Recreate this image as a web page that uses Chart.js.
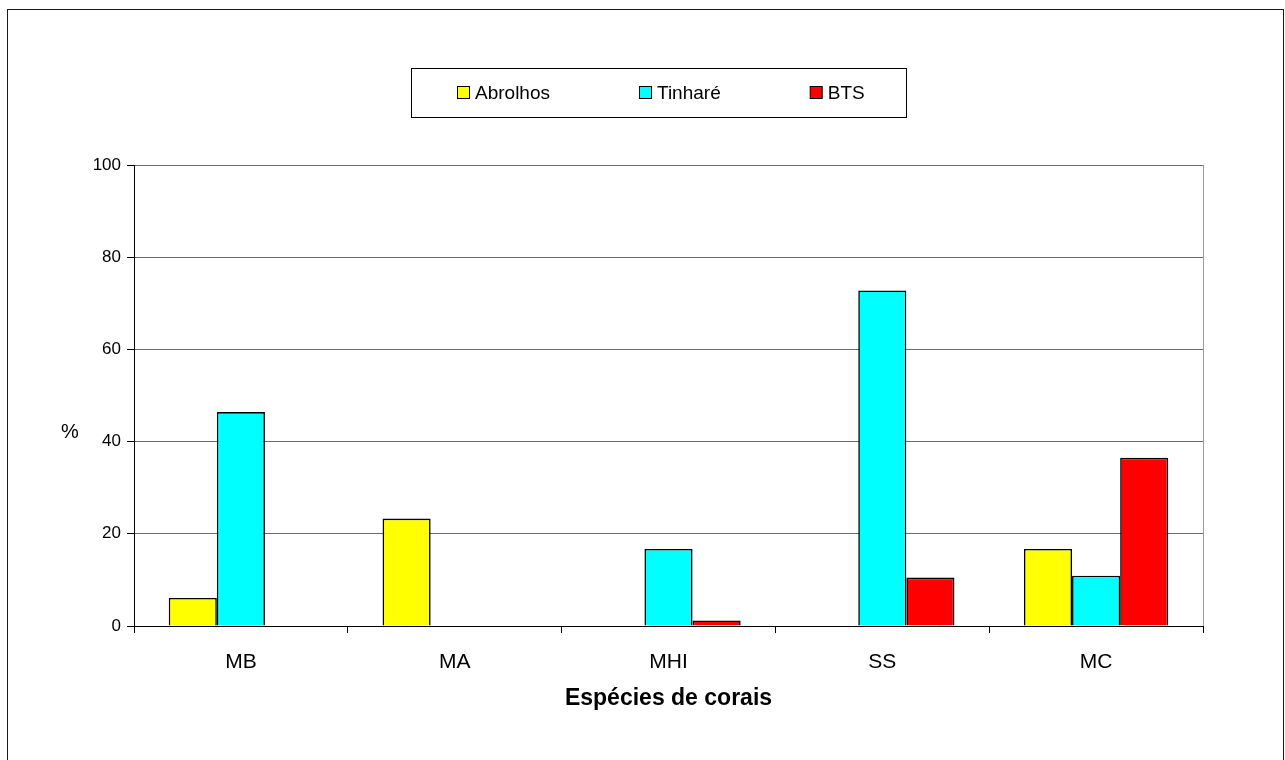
<!DOCTYPE html>
<html>
<head>
<meta charset="utf-8">
<script src="https://cdn.jsdelivr.net/npm/chart.js@4.4.1/dist/chart.umd.min.js"></script>
<style>
  html, body { margin: 0; padding: 0; background: #ffffff; }
  canvas { display: block; }
</style>
</head>
<body>
<canvas id="c" width="1285" height="760"></canvas>
<script>
// Coral species occurrence (%) by site
const categories = ['MB', 'MA', 'MHI', 'SS', 'MC'];
const abrolhos = [6.1, 23.3, 0, 0, 16.7];
const tinhare = [46.4, 0, 16.7, 72.8, 10.9];
const bts = [0, 0, 1.2, 10.5, 36.5];
const seriesNames = ['Abrolhos', 'Tinharé', 'BTS'];
const seriesColors = ['#FFFF00', '#00FFFF', '#FF0000'];
const yTickValues = [0, 20, 40, 60, 80, 100];
const xTitle = 'Espécies de corais';
const yTitle = '%';

const FONT = 'Liberation Sans, Arial, Helvetica, sans-serif';

// Outer frame and plot-area border, drawn beneath the chart
const framePlugin = {
  id: 'frame',
  beforeDraw(chart) {
    const ctx = chart.ctx;
    const a = chart.chartArea;
    ctx.save();
    ctx.fillStyle = '#ffffff';
    ctx.fillRect(0, 0, chart.width, chart.height);
    ctx.strokeStyle = '#1a1a1a';
    ctx.lineWidth = 1;
    ctx.strokeRect(7.5, 9.5, 1276, 800);
    ctx.strokeStyle = '#9a9a9a';
    ctx.strokeRect(Math.round(a.left) + 0.5, Math.round(a.top) + 0.5,
                   Math.round(a.right - a.left), Math.round(a.bottom - a.top));
    ctx.restore();
  }
};

// Boxed legend across the top, items built from the datasets
const boxLegendPlugin = {
  id: 'boxLegend',
  afterDraw(chart) {
    const ctx = chart.ctx;
    const box = { left: 411.5, top: 68.5, right: 906.5, bottom: 117.5 };
    ctx.save();
    ctx.strokeStyle = '#000000';
    ctx.lineWidth = 1;
    ctx.strokeRect(box.left, box.top, box.right - box.left, box.bottom - box.top);
    ctx.font = '19px ' + FONT;
    ctx.textBaseline = 'middle';
    ctx.textAlign = 'left';
    const cy = (box.top + box.bottom) / 2 - 0.5;
    let x = 457;
    chart.data.datasets.forEach(ds => {
      ctx.fillStyle = ds.backgroundColor;
      ctx.fillRect(x + 0.5, cy - 6, 12, 12);
      ctx.strokeStyle = '#000000';
      ctx.strokeRect(x + 0.5, cy - 6, 12, 12);
      ctx.fillStyle = '#000000';
      ctx.fillText(ds.label, x + 18, cy + 1);
      x += 18 + ctx.measureText(ds.label).width + 89;
    });
    ctx.restore();
  }
};

// Horizontal value-axis title
const yTitlePlugin = {
  id: 'yTitle',
  afterDraw(chart) {
    const ctx = chart.ctx;
    ctx.save();
    ctx.font = '20px ' + FONT;
    ctx.fillStyle = '#000000';
    ctx.textAlign = 'center';
    ctx.textBaseline = 'middle';
    ctx.fillText(yTitle, 70, 432);
    ctx.restore();
  }
};

const seriesData = [abrolhos, tinhare, bts];

new Chart(document.getElementById('c'), {
  type: 'bar',
  data: {
    labels: categories,
    datasets: seriesNames.map((name, i) => ({
      label: name,
      data: seriesData[i],
      backgroundColor: seriesColors[i],
      borderColor: '#000000',
      borderWidth: 1.6,
      borderSkipped: 'bottom',
      barPercentage: 1.0,
      categoryPercentage: 0.675
    }))
  },
  options: {
    responsive: false,
    animation: false,
    devicePixelRatio: 1,
    layout: { padding: { left: 0, top: 165, right: 82, bottom: 0 } },
    plugins: {
      legend: { display: false },
      tooltip: { enabled: false },
      title: { display: false }
    },
    scales: {
      x: {
        offset: true,
        grid: {
          display: true,
          drawOnChartArea: false,
          drawTicks: true,
          tickLength: 7,
          tickColor: '#000000',
          offset: true
        },
        border: { display: true, color: '#000000', width: 1 },
        ticks: {
          color: '#000000',
          font: { family: FONT, size: 21 },
          padding: 17,
          maxRotation: 0
        },
        title: {
          display: true,
          text: xTitle,
          color: '#000000',
          font: { family: FONT, size: 23, weight: 'bold' },
          padding: { top: 0, bottom: 48 }
        },
        afterFit(scale) { scale.height = 134; }
      },
      y: {
        min: 0,
        max: 100,
        afterBuildTicks(scale) {
          scale.ticks = yTickValues.map(v => ({ value: v }));
        },
        grid: {
          color: '#6a6a6a',
          lineWidth: 1,
          drawTicks: true,
          tickLength: 7,
          tickColor: '#000000'
        },
        border: { display: true, color: '#000000', width: 1 },
        ticks: {
          color: '#000000',
          font: { family: FONT, size: 17 },
          padding: 6
        },
        afterFit(scale) { scale.width = 134; }
      }
    }
  },
  plugins: [framePlugin, boxLegendPlugin, yTitlePlugin]
});
</script>
</body>
</html>
